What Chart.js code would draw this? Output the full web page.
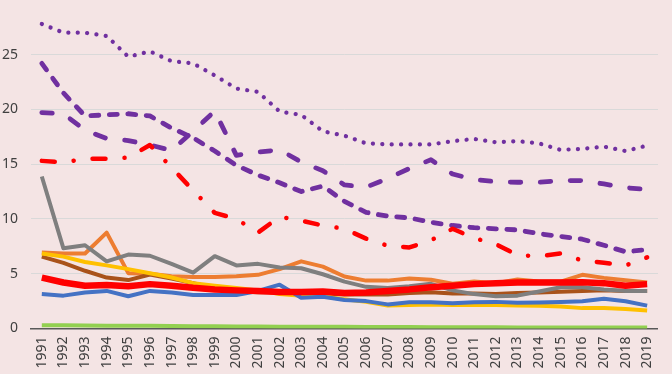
<!DOCTYPE html>
<html lang="en">
<head>
    <meta charset="UTF-8">
    <title>Trend 1991-2019</title>
    <script src="https://cdn.jsdelivr.net/npm/chart.js"></script>
    <style>
        body { margin: 0; background: #f4e4e4; }
        #trendChart { display: block; background: #f4e4e4; }
    </style>
</head>
<body>
    <canvas id="trendChart" width="672" height="374"></canvas>

    <script>
        let years = ['1991', '1992', '1993', '1994', '1995', '1996', '1997', '1998', '1999', '2000',
            '2001', '2002', '2003', '2004', '2005', '2006', '2007', '2008', '2009', '2010',
            '2011', '2012', '2013', '2014', '2015', '2016', '2017', '2018', '2019'];
        let yTicks = [0, 5, 10, 15, 20, 25];

        let purpleDotted = [27.8, 27.0, 27.0, 26.7, 24.8, 25.3, 24.4, 24.2, 23.1, 21.9, 21.6, 19.8, 19.5, 18.0, 17.6,
            16.9, 16.8, 16.8, 16.8, 17.1, 17.3, 17.0, 17.1, 16.9, 16.3, 16.4, 16.6, 16.2, 16.7];
        let purpleDashA = [24.2, 21.5, 19.4, 19.5, 19.6, 19.4, 18.3, 17.4, 16.2, 14.9, 14.0, 13.3, 12.5, 13.0, 11.6,
            10.6, 10.25, 10.1, 9.7, 9.4, 9.2, 9.1, 9.0, 8.65, 8.4, 8.15, 7.6, 7.0, 7.2];
        let purpleDashB = [19.7, 19.6, 18.1, 17.35, 17.15, 16.75, 16.25, 18.0, 19.85, 15.8, 16.1, 16.3, 15.2, 14.4, 13.1,
            12.9, 13.7, 14.6, 15.4, 14.1, 13.6, 13.4, 13.35, 13.35, 13.5, 13.5, 13.2, 12.85, 12.7];
        let redDashDot = [15.3, 15.15, 15.5, 15.5, 15.6, 16.75, 14.7, 12.6, 10.55, 10.0, 8.75, 10.2, 9.85, 9.4, 9.1,
            8.2, 7.55, 7.4, 8.05, 9.1, 8.25, 7.7, 6.7, 6.6, 6.85, 6.2, 6.0, 5.75, 6.5];
        let graySeries = [13.87, 7.32, 7.6, 6.13, 6.75, 6.64, 5.9, 5.1, 6.6, 5.76, 5.9, 5.56, 5.5, 4.95, 4.28,
            3.8, 3.7, 3.85, 4.08, 3.48, 3.14, 2.94, 3.0, 3.37, 3.77, 3.77, 3.57, 3.43, 3.43];
        let orangeSeries = [6.93, 6.84, 6.84, 8.75, 5.05, 5.0, 4.76, 4.71, 4.71, 4.76, 4.9, 5.42, 6.13, 5.65, 4.75,
            4.37, 4.37, 4.56, 4.45, 4.08, 4.28, 4.14, 4.48, 4.28, 4.28, 4.9, 4.62, 4.4, 4.2];
        let yellowSeries = [6.84, 6.56, 6.07, 5.76, 5.42, 5.05, 4.65, 4.14, 3.91, 3.7, 3.48, 3.14, 3.0, 2.94, 2.66,
            2.43, 2.09, 2.15, 2.2, 2.15, 2.15, 2.15, 2.09, 2.07, 2.0, 1.86, 1.86, 1.78, 1.64];
        let brownSeries = [6.56, 5.99, 5.27, 4.65, 4.42, 4.93, 4.56, 4.14, 3.7, 3.4, 3.3, 3.3, 3.2, 3.2, 3.1,
            3.1, 3.1, 3.25, 3.3, 3.2, 3.2, 3.14, 3.23, 3.28, 3.35, 3.43, 3.48, 3.43, 3.43];
        let redSeries = [4.65, 4.2, 3.91, 3.97, 3.86, 4.05, 3.91, 3.71, 3.57, 3.48, 3.43, 3.34, 3.34, 3.37, 3.23,
            3.28, 3.43, 3.57, 3.77, 3.91, 4.05, 4.14, 4.2, 4.2, 4.2, 4.22, 4.14, 3.91, 4.05];
        let blueSeries = [3.14, 3.0, 3.28, 3.43, 2.94, 3.43, 3.28, 3.06, 3.06, 3.06, 3.43, 4.0, 2.8, 2.9, 2.6,
            2.5, 2.2, 2.4, 2.4, 2.3, 2.4, 2.43, 2.35, 2.38, 2.43, 2.49, 2.71, 2.49, 2.09];
        let greenSeries = [0.3, 0.29, 0.27, 0.26, 0.25, 0.24, 0.22, 0.21, 0.2, 0.19, 0.18, 0.17, 0.16, 0.15, 0.15,
            0.14, 0.13, 0.13, 0.12, 0.12, 0.11, 0.11, 0.1, 0.1, 0.1, 0.1, 0.1, 0.1, 0.1];

        function line(data, color, width, dash) {
            return {
                data: data,
                borderColor: color,
                borderWidth: width,
                borderDash: dash || [],
                borderCapStyle: dash ? 'round' : 'butt',
                borderJoinStyle: 'round',
                pointRadius: 0,
                tension: 0,
                fill: false
            };
        }

        // first dataset ends up drawn on top
        let datasets = [
            line(redSeries, '#ff0000', 6.5),
            line(graySeries, '#7f7f7f', 4),
            line(blueSeries, '#4472c4', 4),
            line(yellowSeries, '#ffc000', 4),
            line(brownSeries, '#a9521a', 4),
            line(orangeSeries, '#ed7d31', 4),
            line(greenSeries, '#92d050', 4),
            line(redDashDot, '#ff0000', 4.5, [13, 19, 0.1, 19]),
            line(purpleDashA, '#7030a0', 4.8, [8, 10.5]),
            line(purpleDashB, '#7030a0', 4.8, [10.5, 19.5]),
            line(purpleDotted, '#7030a0', 4.2, [0.1, 9.3])
        ];

        let tickFont = { family: 'Noto Sans', size: 14 };

        new Chart(document.getElementById('trendChart'), {
            type: 'line',
            data: { labels: years, datasets: datasets },
            options: {
                responsive: false,
                animation: false,
                layout: { padding: { left: 0, right: 3, top: 0, bottom: 0 } },
                plugins: {
                    legend: { display: false },
                    tooltip: { enabled: false }
                },
                scales: {
                    x: {
                        offset: true,
                        grid: { display: false, drawTicks: false },
                        border: { display: true, color: '#595959', width: 1.5 },
                        ticks: {
                            autoSkip: false,
                            minRotation: 90,
                            maxRotation: 90,
                            padding: 8,
                            color: '#404040',
                            font: tickFont
                        },
                        afterFit: function (axis) { axis.height = 45.5; }
                    },
                    y: {
                        min: 0,
                        max: 28.03,
                        grid: { color: '#d9d9d9', lineWidth: 1, drawTicks: false },
                        border: { display: false },
                        ticks: {
                            stepSize: 5,
                            includeBounds: false,
                            padding: 13,
                            color: '#404040',
                            font: tickFont,
                            callback: function (v) { return yTicks.includes(v) ? String(v) : ''; }
                        },
                        afterFit: function (axis) { axis.width = 31; }
                    }
                }
            }
        });
    </script>
</body>
</html>
